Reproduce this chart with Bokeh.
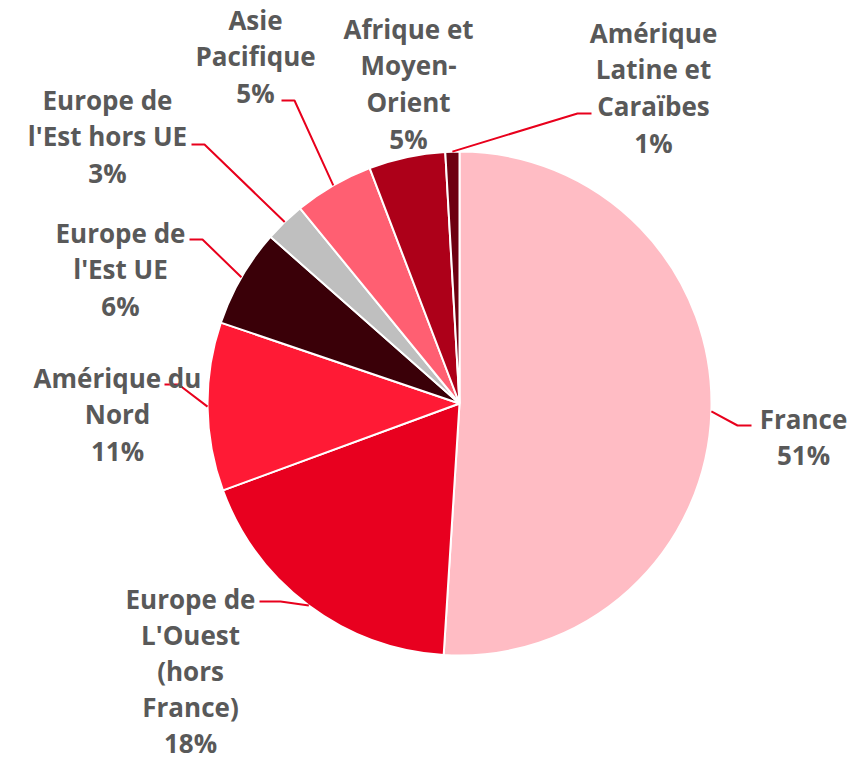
import math
from bokeh.plotting import figure
from bokeh.models import Range1d, ColumnDataSource
from bokeh.core.properties import value
from bokeh.embed import file_html
from bokeh.resources import INLINE

# ---- data ----
regions = ["France", "Europe de L'Ouest (hors France)", "Amérique du Nord",
           "Europe de l'Est UE", "Europe de l'Est hors UE", "Asie Pacifique",
           "Afrique et Moyen-Orient", "Amérique Latine et Caraïbes"]
shares = [51.0, 18.4, 10.8, 6.3, 2.6, 5.1, 4.9, 0.9]
pct_labels = ["51%", "18%", "11%", "6%", "3%", "5%", "5%", "1%"]
label_lines = [["France"], ["Europe de", "L'Ouest", "(hors", "France)"],
               ["Amérique du", "Nord"], ["Europe de", "l'Est UE"],
               ["Europe de", "l'Est hors UE"], ["Asie", "Pacifique"],
               ["Afrique et", "Moyen-", "Orient"], ["Amérique", "Latine et", "Caraïbes"]]
colors = ["#FFBCC4", "#E8001F", "#FF1A35", "#3A0008", "#BFBFBF", "#FF5F72", "#AD0019", "#6D0010"]

# ---- layout (pixel-like coordinates, y down negated) ----
CX, CY, R = 459, -403, 252
label_pos = [(803, 418), (190, 598), (117, 377), (120, 232), (107, 99), (255, 19), (408, 28), (653, 32)]
line_heights = [36.7, 36.0, 36.7, 36.7, 36.7, 36.7, 36.7, 36.7]
# leader: (end_x, end_y, elbow_x) or None
leaders = [(751, 425, 737), (259, 601, 280), (164, 384, 178), (189, 239, 202),
           (191, 144, 204), (281, 100, 294), None, (591, 113, 577)]

W, H = 863, 761
p = figure(width=W, height=H, x_range=Range1d(0, W), y_range=Range1d(-H, 0),
           output_backend="svg", toolbar_location=None, min_border=0)
p.axis.visible = False
p.grid.visible = False
p.outline_line_color = None
p.background_fill_color = "white"

total = sum(shares)
starts, ends, mids = [], [], []
cum = 0.0
for s in shares:
    a0 = math.pi / 2 - 2 * math.pi * cum / total
    cum += s
    a1 = math.pi / 2 - 2 * math.pi * cum / total
    starts.append(a0)
    ends.append(a1)
    mids.append((a0 + a1) / 2)

src = ColumnDataSource(dict(x=[CX] * len(shares), y=[CY] * len(shares),
                            start=starts, end=ends, color=colors))
p.wedge(x="x", y="y", radius=R, start_angle="start", end_angle="end", direction="clock",
        fill_color="color", line_color="white", line_width=2, source=src)

# leader lines
for m, ld in zip(mids, leaders):
    if ld is None:
        continue
    ex, ey, bx = ld
    sx = CX + R * math.cos(m)
    sy = CY + R * math.sin(m)
    p.line([sx, bx, ex], [sy, -ey, -ey], line_color="#E8001C", line_width=2)

# labels
tx, ty, tt = [], [], []
for (lx, ly), lh, lines, pc in zip(label_pos, line_heights, label_lines, pct_labels):
    allines = lines + [pc]
    for i, t in enumerate(allines):
        tx.append(lx)
        ty.append(-(ly + i * lh))
        tt.append(t)
p.text(x=tx, y=ty, text=tt, text_align="center", text_baseline="middle",
       text_font=value("Open Sans"), text_font_style="bold", text_font_size="26px",
       text_color="#595959")

open("out.html", "w").write(file_html(p, INLINE))
